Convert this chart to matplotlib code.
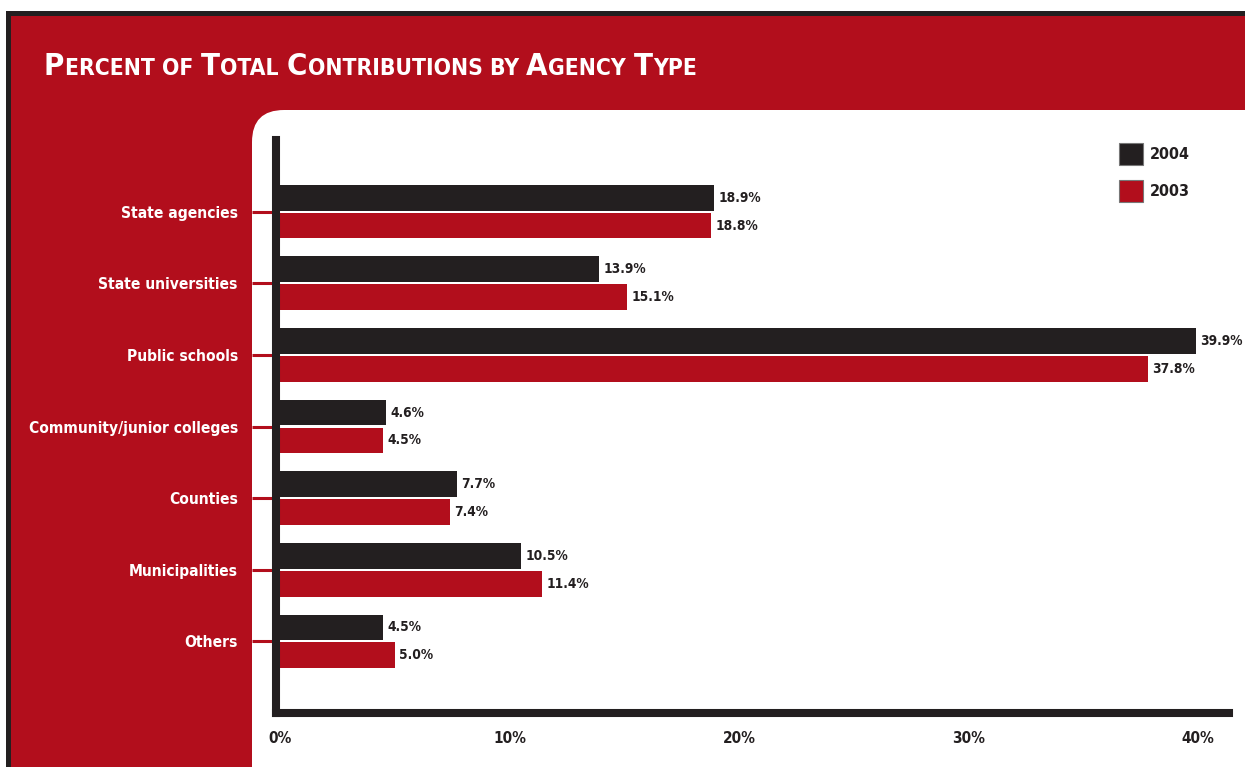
import numpy as np
import matplotlib
matplotlib.use("Agg")
import matplotlib.pyplot as plt
from matplotlib import font_manager
from matplotlib.font_manager import FontProperties
from matplotlib.patches import Rectangle, FancyBboxPatch

# data
categories = ["State agencies", "State universities", "Public schools",
              "Community/junior colleges", "Counties", "Municipalities", "Others"]
pct_2004 = [18.9, 13.9, 39.9, 4.6, 7.7, 10.5, 4.5]
pct_2003 = [18.8, 15.1, 37.8, 4.5, 7.4, 11.4, 5.0]
xticks = [0, 10, 20, 30, 40]

RED = "#B20E1C"
DARK = "#231F20"

# look for a narrow bold face, the original uses a condensed sans
paths = [f.fname for f in font_manager.fontManager.ttflist]
found = None
for key in ["LiberationSansNarrow-Bold.", "DejaVuSansCondensed-Bold.", "Roboto-Bold", "Roboto"]:
    hits = [p for p in paths if key in p.split("/")[-1]]
    if hits:
        found = hits[0]
        break
if found:
    FP = FontProperties(fname=found)
else:
    FP = FontProperties(family="DejaVu Sans", weight="bold", stretch="condensed")


def fp(size):
    f = FP.copy()
    f.set_size(size)
    return f


fig = plt.figure(figsize=(12.45, 7.67), dpi=100)
fig.patch.set_facecolor("white")

# background in pixel units
bg = fig.add_axes([0, 0, 1, 1], zorder=0)
bg.set_xlim(0, 1245)
bg.set_ylim(767, 0)
bg.axis("off")
bg.add_patch(Rectangle((6, 11), 1300, 800, facecolor=DARK, edgecolor="none"))
bg.add_patch(Rectangle((11, 16), 1300, 800, facecolor=RED, edgecolor="none"))
bg.add_patch(FancyBboxPatch((252, 110), 1100, 800,
                            boxstyle="round,pad=0,rounding_size=32",
                            facecolor="white", edgecolor="none"))

# small-caps title
big, small = 22.3, 16.4
parts = [("P", big), ("ERCENT OF ", small), ("T", big), ("OTAL ", small),
         ("C", big), ("ONTRIBUTIONS BY ", small), ("A", big), ("GENCY ", small),
         ("T", big), ("YPE", small)]
renderer = fig.canvas.get_renderer()
x = 44
for s, size in parts:
    t = bg.text(x, 75, s, fontproperties=fp(size), color="white",
                va="baseline", ha="left")
    x += t.get_window_extent(renderer).width + 0.5

# bar chart
ax = fig.add_axes([276 / 1245, 1 - 713 / 767, (1229 - 276) / 1245, (713 - 140) / 767],
                  zorder=1)
ax.set_facecolor("none")
y = np.arange(len(categories))
h = 0.36
b1 = ax.barh(y - 0.195, pct_2004, h, color=DARK, label="2004")
b2 = ax.barh(y + 0.195, pct_2003, h, color=RED, label="2003")

for bars, vals in [(b1, pct_2004), (b2, pct_2003)]:
    for bar, v in zip(bars, vals):
        ax.text(v + 0.2, bar.get_y() + bar.get_height() / 2, f"{v:.1f}%",
                va="center", ha="left", fontproperties=fp(9.8), color=DARK)

px = 22.95  # pixels per percent
ax.set_xlim(-4 / px, (1229 - 280) / px)
ax.set_ylim(len(categories), -1)
ax.set_yticks(y)
ax.set_yticklabels(categories)
ax.set_xticks(xticks)
ax.set_xticklabels([f"{v}%" for v in xticks])

for side in ["top", "right"]:
    ax.spines[side].set_visible(False)
for side in ["left", "bottom"]:
    ax.spines[side].set_color(DARK)
    ax.spines[side].set_linewidth(5.8)

ax.tick_params(axis="y", length=17.5, width=2.2, color=RED, pad=10,
               labelcolor="white")
ax.tick_params(axis="x", length=0, pad=13, labelcolor=DARK)
for lab in ax.get_yticklabels():
    lab.set_fontproperties(fp(11.2))
for lab in ax.get_xticklabels():
    lab.set_fontproperties(fp(11))

leg = ax.legend(loc="upper left", bbox_to_anchor=(1119 / 1245, 1 - 143 / 767),
                bbox_transform=fig.transFigure, frameon=False, prop=fp(11.5),
                handlelength=1.5, handleheight=1.75, labelspacing=0.95,
                handletextpad=0.45, borderaxespad=0, borderpad=0)
for p in leg.get_patches():
    p.set_edgecolor("#777777")
    p.set_linewidth(0.8)
for t in leg.get_texts():
    t.set_color(DARK)

fig.savefig("out.png", dpi=100)
